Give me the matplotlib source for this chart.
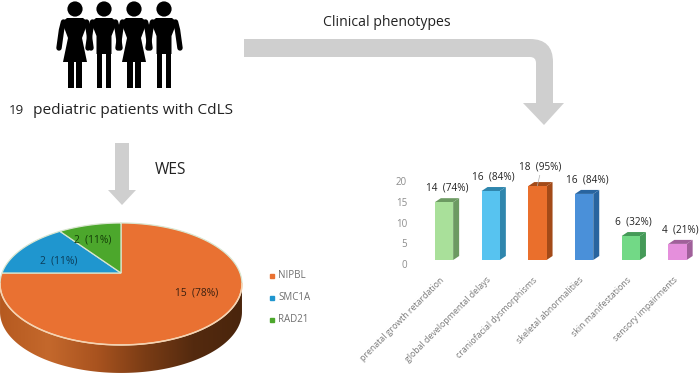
import numpy as np
import matplotlib as mpl
mpl.use("Agg")
import matplotlib.pyplot as plt
from matplotlib.patches import Polygon, PathPatch, Circle
from matplotlib.path import Path

# ----------------------------------------------------------------------------
# Data
# ----------------------------------------------------------------------------

genes = ["NIPBL", "SMC1A", "RAD21"]
gene_labels = ["15  (78%)", "2  (11%)", "2  (11%)"]
gene_shares = [75, 15, 10]   # share of the disc as it is drawn
gene_colors = ["#e97132", "#1f96cf", "#4ca72c"]

phenotypes = ["prenatal growth retardation", "global developmental delays",
              "craniofacial dysmorphisms", "skeletal abnormalities",
              "skin manifestations", "sensory impairments"]
bar_heights = [14.0, 16.7, 17.9, 16.0, 5.8, 3.9]
bar_labels = ["14  (74%)", "16  (84%)", "18  (95%)", "16  (84%)", "6  (32%)", "4  (21%)"]
label_gaps = [3.5, 3.5, 7, 3.5, 3.5, 3.5]
bar_front = ["#a9e09a", "#57c3f0", "#ea6f2c", "#4a90d9", "#72d986", "#e58fdc"]
bar_side = ["#6c9a62", "#2f86ad", "#a34a18", "#28649f", "#459a58", "#a0609a"]
y_ticks = [0, 5, 10, 15, 20]

INK = "#222222"
GREY = "#8c8c8c"
ARROW = "#cfcfcf"
plt.rcParams["font.family"] = ["Open Sans", "DejaVu Sans"]

fig = plt.figure(figsize=(7, 3.75), dpi=100)
W, H = 700, 375

# canvas in image pixels, y pointing down
ax = fig.add_axes([0, 0, 1, 1])
ax.set_xlim(0, W)
ax.set_ylim(H, 0)
ax.axis("off")

# ----------------------------------------------------------------------------
# People
# ----------------------------------------------------------------------------

def person(cx, female):
    ax.add_patch(Circle((cx, 9), 7.6, color="black", lw=0))
    for s in (-1, 1):
        ax.plot([cx + s * 11.5, cx + s * 13.5, cx + s * 16], [22, 30, 48], color="black",
                lw=3.9, solid_capstyle="round", solid_joinstyle="round")
        inner = 1 if female else 2
        ax.fill([cx + s * inner, cx + s * 7, cx + s * 7, cx + s * inner],
                [50, 50, 88, 88], color="black", lw=0)
    if female:
        xs = [-8, 8, 13, 7, 12, -12, -7, -13]
        ys = [18, 18, 22, 38, 62, 62, 38, 22]
    else:
        xs = [-8, 8, 13, 7.5, 7.5, -7.5, -7.5, -13]
        ys = [18, 18, 22, 36, 54, 54, 36, 22]
    ax.fill([cx + x for x in xs], ys, color="black", lw=0)

for cx, female in [(75, True), (104, False), (134, True), (164, False)]:
    person(cx, female)

ax.text(9, 111, "19", fontsize=9.6, color=INK, va="center")
ax.text(33, 111, "pediatric patients with CdLS", fontsize=11.1, color=INK, va="center")
ax.text(323, 22, "Clinical phenotypes", fontsize=10.1, color=INK, va="center")
ax.text(155, 170, "WES", fontsize=11.2, color=INK, va="center")

# ----------------------------------------------------------------------------
# Arrows
# ----------------------------------------------------------------------------

ax.fill([115, 129, 129, 136, 122, 108, 115], [143, 143, 190, 190, 205, 190, 190],
        color=ARROW, lw=0)

verts = [(244, 39), (530, 39), (553, 39), (553, 62), (553, 103), (564, 103), (544, 125),
         (523, 103), (536, 103), (536, 63), (536, 57), (530, 57), (244, 57), (244, 39)]
codes = [Path.MOVETO, Path.LINETO, Path.CURVE3, Path.CURVE3, Path.LINETO, Path.LINETO,
         Path.LINETO, Path.LINETO, Path.LINETO, Path.LINETO, Path.CURVE3, Path.CURVE3,
         Path.LINETO, Path.CLOSEPOLY]
ax.add_patch(PathPatch(Path(verts, codes), facecolor=ARROW, edgecolor="none"))

# ----------------------------------------------------------------------------
# 3D pie, a disc seen in perspective
# ----------------------------------------------------------------------------

PX, PY = 121, 273     # where the slices meet
K = 0.18

def disc(t, drop=0):
    # t is clockwise from 12 o'clock
    u, v = np.sin(t), np.cos(t)
    w = 1 + K * v
    return PX + 119 * u / w, PY - 59 * v / w + drop

t = np.linspace(0, 2 * np.pi, 361)
x_rim, y_rim = disc(t)
x_low, y_low = disc(t, drop=28)

# side wall with a left to right gradient
lo = np.argmin(x_rim)
hi = np.argmax(x_rim)
wall_x = np.r_[x_rim[hi:lo + 1], x_low[hi:lo + 1][::-1]]
wall_y = np.r_[y_rim[hi:lo + 1], y_low[hi:lo + 1][::-1]]
wall = Polygon(np.c_[wall_x, wall_y], closed=True, transform=ax.transData,
               facecolor="none", edgecolor="none")
ax.add_patch(wall)
cmap = mpl.colors.LinearSegmentedColormap.from_list(
    "wall", ["#b65a20", "#c4682c", "#a9531f", "#7a3c15", "#542a0f", "#4a250c"])
im = ax.imshow(np.linspace(0, 1, 256)[None, :], cmap=cmap, aspect="auto",
               extent=[0, 242, 375, 270], zorder=1)
im.set_clip_path(wall)
ax.set_xlim(0, W)
ax.set_ylim(H, 0)

start = 0.0
for share, color in zip(gene_shares, gene_colors):
    end = start + share / sum(gene_shares) * 2 * np.pi
    arc = np.linspace(start, end, 180)
    xs, ys = disc(arc)
    ax.fill(np.r_[PX, xs], np.r_[PY, ys], facecolor=color, edgecolor="#d9e6d0",
            lw=0.9, zorder=2)
    start = end
ax.plot(x_rim[hi:lo + 1], y_rim[hi:lo + 1], color="#f8d2b0", lw=1.1, zorder=3)

ax.text(197, 293, gene_labels[0], fontsize=7.4, color="#3a2010", ha="center", va="center", zorder=4)
ax.text(59, 261, gene_labels[1], fontsize=7.4, color="#0b3c58", ha="center", va="center", zorder=4)
ax.text(93, 240, gene_labels[2], fontsize=7.4, color="#143d08", ha="center", va="center", zorder=4)

for name, color, y in zip(genes, gene_colors, [276, 298, 320]):
    ax.plot([272], [y], "s", ms=2.6, color=color, zorder=4)
    ax.text(278, y, name, fontsize=7.0, color="#6f6f6f", va="center")

# ----------------------------------------------------------------------------
# 3D bars
# ----------------------------------------------------------------------------

PX_UNIT = 4.13      # pixels per y unit
BAR_STEP = 46.7     # pixels between bars
left, right, top, base = 410, 700, 160, 260
bx = fig.add_axes([left / W, 1 - base / H, (right - left) / W, (base - top) / H])
bx.patch.set_alpha(0)
bx.set_xlim((left - 444) / BAR_STEP, (right - 444) / BAR_STEP)
bx.set_ylim(0, (base - top) / PX_UNIT)
for s in bx.spines.values():
    s.set_visible(False)

pos = np.arange(len(phenotypes))
width = 18.3 / BAR_STEP
dx, dy = 6 / BAR_STEP, 4 / PX_UNIT
bx.bar(pos, bar_heights, width=width, color=bar_front, zorder=3)
for p, h, side, label, gap in zip(pos, bar_heights, bar_side, bar_labels, label_gaps):
    r = p + width / 2
    l = p - width / 2
    bx.fill([r, r + dx, r + dx, r], [0, dy, h + dy, h], color=side, lw=0, zorder=2)
    bx.fill([l, l + dx, r + dx, r], [h, h + dy, h + dy, h], color=side, lw=0, zorder=2)
    bx.annotate(label, (p, h + dy), xytext=(2, gap), textcoords="offset points",
                fontsize=7.2, color=INK, ha="center", va="bottom", annotation_clip=False)
# short leader on the tallest bar
bx.plot([2.0, 2.05], [18.0, 20.5], color="#b0b0b0", lw=0.5, zorder=4)

bx.set_yticks(y_ticks)
bx.set_xticks(pos - 0.1, phenotypes)
bx.tick_params(length=0, colors=GREY)
bx.tick_params(axis="x", pad=11)
bx.tick_params(axis="y", pad=2.2)
for lab in bx.get_yticklabels():
    lab.set(va="top", fontsize=7.0)
for lab in bx.get_xticklabels():
    lab.set(rotation=45, ha="right", va="top", rotation_mode="anchor",
            fontsize=6.3, color="#7a7a7a")

fig.savefig("out.png", dpi=100)
